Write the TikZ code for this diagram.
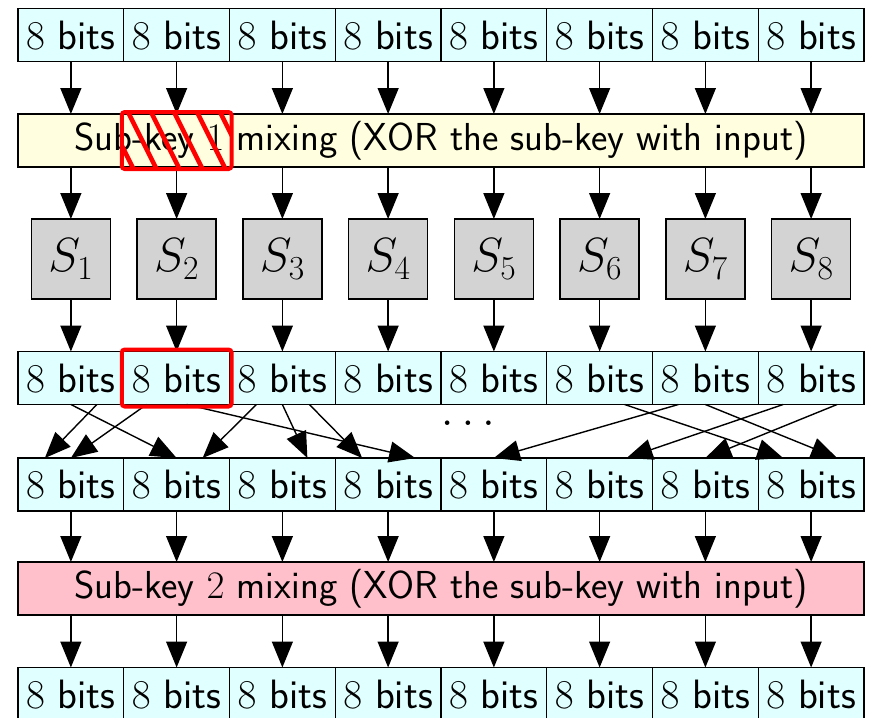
\RequirePackage{fix-cm}
\documentclass[tikz,border=0pt]{standalone}
\usetikzlibrary{arrows.meta,calc}
\definecolor{cellc}{HTML}{E0FFFF}
\definecolor{skone}{HTML}{FFFFE0}
\definecolor{sktwo}{HTML}{FFC0CB}
\definecolor{sboxc}{HTML}{D3D3D3}
\newcommand\bitsfont{\fontsize{41}{49}\selectfont\sffamily}
\newcommand\skfont{\fontsize{39}{47}\selectfont\sffamily}
\newcommand\sfnt{\fontsize{48}{58}\selectfont}
\tikzset{
  cell/.style={draw, line width=1.4pt, fill=cellc, minimum width=105.75pt, minimum height=53pt, inner sep=0pt, outer sep=0pt, font=\bitsfont},
  skbox/.style={draw, line width=1.4pt, minimum width=846pt, minimum height=53pt, inner sep=0pt, outer sep=0pt, font=\skfont},
  sbox/.style={draw, line width=1.4pt, fill=sboxc, minimum width=79pt, minimum height=80pt, inner sep=0pt, outer sep=0pt, font=\sfnt},
  arr/.style={line width=1.4pt, -{Triangle[length=26pt,width=21pt]}},
  redmark/.style={draw=red, line width=4pt, rounded corners=3pt},
  hatch/.style={red, line width=4.5pt}
}
\begin{document}
\begin{tikzpicture}[x=1pt,y=-1pt]
\useasboundingbox (0,0) rectangle (871,718);
\foreach \i in {1,...,8} {
  \node[cell] (r1c\i) at ({18+(\i-0.5)*105.75},35) {$8$ bits};
  \node[sbox] (s\i) at ({18+(\i-0.5)*105.75},259) {$S_{\i}$};
  \node[cell] (r4c\i) at ({18+(\i-0.5)*105.75},378) {$8$ bits};
  \node[cell] (r5c\i) at ({18+(\i-0.5)*105.75},484.5) {$8$ bits};
  \node[cell] (r7c\i) at ({18+(\i-0.5)*105.75},694) {$8$ bits};
}
\node[skbox, fill=skone] (sk1) at (441,140.5) {Sub-key $1$ mixing (XOR the sub-key with input)};
\node[skbox, fill=sktwo] (sk2) at (441,588.5) {Sub-key $2$ mixing (XOR the sub-key with input)};
\foreach \i in {1,...,8} {
  \draw[arr] (r1c\i.south) -- (r1c\i.south |- sk1.north);
  \draw[arr] (sk1.south -| s\i) -- (s\i.north);
  \draw[arr] (s\i.south) -- (r4c\i.north);
  \draw[arr] (r5c\i.south) -- (r5c\i.south |- sk2.north);
  \draw[arr] (sk2.south -| r7c\i) -- (r7c\i.north);
}
% permutation
\draw[arr] (r4c1.south) -- (r5c2.north);
\draw[arr] ($(r4c1.south)+(26,0)$) -- ($(r5c1.north)+(-26,0)$);
\draw[arr] ($(r4c2.south)+(-30,0)$) -- (r5c1.north);
\draw[arr] ($(r4c2.south)+(10,0)$) -- ($(r5c4.north)+(27,0)$);
\draw[arr] ($(r4c3.south)+(-26,0)$) -- ($(r5c2.north)+(26,0)$);
\draw[arr] (r4c3.south) -- ($(r5c3.north)+(25,0)$);
\draw[arr] ($(r4c3.south)+(27,0)$) -- ($(r5c4.north)+(-26,0)$);
\draw[arr] ($(r4c6.south)+(25,0)$) -- ($(r5c8.north)+(-28,0)$);
\draw[arr] ($(r4c7.south)+(-27,0)$) -- (r5c5.north);
\draw[arr] (r4c7.south) -- ($(r5c8.north)+(26,0)$);
\draw[arr] ($(r4c8.south)+(-28,0)$) -- ($(r5c6.north)+(27,0)$);
\draw[arr] ($(r4c8.south)+(26,0)$) -- (r5c7.north);
\node[font=\fontsize{47}{56}\selectfont, anchor=base, inner sep=0pt] (dots) at (468,425.5) {$\ldots$};
% hatched highlight on sub-key 1
\coordinate (hA) at ($(sk1.south -| r1c2.west)+(-2,2)$);
\coordinate (hB) at ($(sk1.north -| r1c2.east)+(2,-2)$);
\begin{scope}
  \clip (hA) rectangle (hB);
  \foreach \t in {81,104,...,242} \draw[hatch] (\t,110) -- ++(30,60);
\end{scope}
\draw[redmark] (hA) rectangle (hB);
% highlighted output cell
\draw[redmark] ($(r4c2.south west)+(-2,2)$) rectangle ($(r4c2.north east)+(2,-2)$);
\end{tikzpicture}
\end{document}
